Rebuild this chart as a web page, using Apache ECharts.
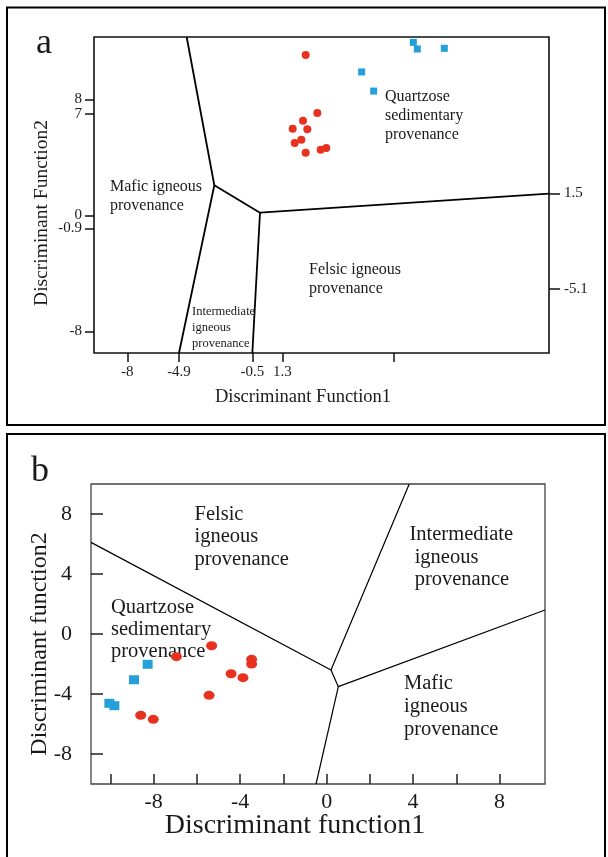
<!DOCTYPE html>
<html>
<head>
<meta charset="utf-8">
<script src="https://cdn.jsdelivr.net/npm/echarts@6/dist/echarts.min.js"></script>
<style>
  html, body { margin: 0; padding: 0; background: #fff; }
  #chart { width: 608px; height: 857px; }
</style>
</head>
<body>
<div id="chart"></div>
<script>
// ---- Panel a: discriminant functions (major-element ratios) ----
const aSamplesRed = [
  [2.70, 11.06], [3.40, 7.06], [2.54, 6.53], [1.92, 5.97], [2.80, 5.93],
  [2.44, 5.22], [2.04, 4.99], [2.70, 4.32], [3.60, 4.52], [3.94, 4.65]
];
const aSamplesBlue = [
  [9.16, 11.93], [9.40, 11.47], [11.02, 11.52], [6.06, 9.89], [6.78, 8.57]
];
// field boundaries, each a polyline in (DF1, DF2)
const aBoundaries = [
  [[-4.44, 12.3], [-2.78, 2.07], [-4.9, -9.5]],
  [[-2.78, 2.07], [-0.04, 0.18], [17.3, 1.5]],
  [[-0.04, 0.18], [-0.5, -9.5]]
];
const aXTicks = [-8, -4.9, -0.5, 1.3, 8];
const aXTickLabels = [-8, -4.9, -0.5, 1.3];
const aYTicks = [-8, -0.9, 0, 8];
const aYExtraTicks = [7];          // sits close to 8, drawn on its own left axis
const aYRightTicks = [-5.1, 1.5];

// ---- Panel b: discriminant functions ----
const bSamplesRed = [
  [-5.32, -0.78], [-6.95, -1.51], [-3.47, -1.69], [-3.47, -2.00], [-4.42, -2.65],
  [-3.87, -2.91], [-5.44, -4.09], [-8.60, -5.42], [-8.02, -5.69]
];
const bSamplesBlue = [
  [-8.28, -2.02], [-8.91, -3.05], [-10.05, -4.62], [-9.82, -4.78]
];
const bBoundaries = [
  [[-10.9, 6.11], [0.20, -2.40], [3.82, 10]],
  [[0.20, -2.40], [0.54, -3.51], [10.1, 1.6]],
  [[0.54, -3.51], [-0.49, -10]]
];
const bXTicks = [-10, -8, -6, -4, -2, 0, 2, 4, 6, 8];
const bXTickLabels = [-8, -4, 0, 4, 8];
const bYTicks = [-8, -4, 0, 4, 8];

const SERIF = "'Liberation Serif', 'Times New Roman', serif";
const INK = '#1a1a1a';
const RED = '#e8321f';
const BLUE = '#23a0d9';

const chart = echarts.init(document.getElementById('chart'), null, { renderer: 'canvas' });

function boundarySeries(lines, gridIdx, width) {
  return lines.map(pts => ({
    type: 'line', xAxisIndex: gridIdx, yAxisIndex: gridIdx === 0 ? 0 : 2,
    data: pts, symbol: 'none', silent: true, animation: false,
    lineStyle: { color: '#000', width: width }, z: 2
  }));
}

function text(str, x, y, size, lh) {
  return {
    type: 'text', x: x, y: y, silent: true,
    style: {
      text: str, fontFamily: SERIF, fontSize: size, lineHeight: lh,
      fill: INK, textVerticalAlign: 'top', textAlign: 'left'
    }
  };
}

function centered(str, x, y, size, rotation) {
  return {
    type: 'text', x: x, y: y, rotation: rotation || 0, silent: true,
    style: { text: str, fontFamily: SERIF, fontSize: size, fill: INK,
             textAlign: 'center', textVerticalAlign: 'middle' }
  };
}

const hiddenLine = { show: false, onZero: false };
const labelBase = { color: INK, fontFamily: SERIF, hideOverlap: false,
                    showMinLabel: true, showMaxLabel: true };

function panelAYAxis(values, position, tickLen, margin) {
  return {
    type: 'value', gridIndex: 0, min: -9.5, max: 12.3, position: position,
    axisLine: hiddenLine, splitLine: { show: false },
    axisTick: { show: true, inside: false, length: tickLen, customValues: values,
                lineStyle: { color: '#111', width: 1.5 } },
    axisLabel: Object.assign({ customValues: values, margin: margin, fontSize: 15 }, labelBase)
  };
}

const option = {
  backgroundColor: '#fff',
  animation: false,
  grid: [
    { left: 94, top: 37, width: 455, height: 316, show: true, borderColor: '#111', borderWidth: 1.6 },
    { left: 91, top: 484, width: 454, height: 300, show: true, borderColor: '#444', borderWidth: 1.3 }
  ],
  xAxis: [
    {
      type: 'value', gridIndex: 0, min: -10, max: 17.3, position: 'bottom',
      axisLine: hiddenLine, splitLine: { show: false },
      axisTick: { show: true, inside: false, length: 9, customValues: aXTicks,
                  lineStyle: { color: '#111', width: 1.5 } },
      axisLabel: Object.assign({ customValues: aXTickLabels, margin: 12, fontSize: 15 }, labelBase)
    },
    {
      type: 'value', gridIndex: 1, min: -10.9, max: 10.1, position: 'bottom',
      axisLine: hiddenLine, splitLine: { show: false },
      axisTick: { show: true, inside: true, length: 10, customValues: bXTicks,
                  lineStyle: { color: '#222', width: 1.5 } },
      axisLabel: Object.assign({ customValues: bXTickLabels, margin: 7, fontSize: 22 }, labelBase)
    }
  ],
  yAxis: [
    panelAYAxis(aYTicks, 'left', 9, 12),
    panelAYAxis(aYRightTicks, 'right', 11, 15),
    {
      type: 'value', gridIndex: 1, min: -10, max: 10, position: 'left',
      axisLine: hiddenLine, splitLine: { show: false },
      axisTick: { show: true, inside: true, length: 12, customValues: bYTicks,
                  lineStyle: { color: '#222', width: 1.5 } },
      axisLabel: Object.assign({ customValues: bYTicks, margin: 19, fontSize: 22 }, labelBase)
    },
    Object.assign(panelAYAxis(aYExtraTicks, 'left', 9, 12), { offset: 0 })
  ],
  series: [
    ...boundarySeries(aBoundaries, 0, 1.8),
    ...boundarySeries(bBoundaries, 1, 1.2),
    { type: 'scatter', xAxisIndex: 0, yAxisIndex: 0, data: aSamplesRed,
      symbol: 'circle', symbolSize: 8, itemStyle: { color: RED, opacity: 1 }, z: 3 },
    { type: 'scatter', xAxisIndex: 0, yAxisIndex: 0, data: aSamplesBlue,
      symbol: 'rect', symbolSize: 7, itemStyle: { color: BLUE, opacity: 1 }, z: 3 },
    { type: 'scatter', xAxisIndex: 1, yAxisIndex: 2, data: bSamplesRed,
      symbol: 'circle', symbolSize: [11, 9], itemStyle: { color: RED, opacity: 1 }, z: 3 },
    { type: 'scatter', xAxisIndex: 1, yAxisIndex: 2, data: bSamplesBlue,
      symbol: 'rect', symbolSize: [10, 9], itemStyle: { color: BLUE, opacity: 1 }, z: 3 }
  ],
  graphic: [
    // panel frames
    { type: 'rect', shape: { x: 7, y: 7.5, width: 598, height: 417.5 }, silent: true,
      style: { fill: 'none', stroke: '#000', lineWidth: 2 } },
    { type: 'rect', shape: { x: 7, y: 434, width: 598, height: 440 }, silent: true,
      style: { fill: 'none', stroke: '#000', lineWidth: 2 } },
    // panel letters
    centered('a', 44, 44, 36),
    centered('b', 40, 472, 36),
    // axis titles
    centered('Discriminant Function1', 303, 397, 18.5),
    centered('Discriminant Function2', 42, 213, 19.5, Math.PI / 2),
    centered('Discriminant function1', 295, 826, 28),
    centered('Discriminant function2', 40, 644, 24, Math.PI / 2),
    // field names, panel a
    text('Quartzose\nsedimentary\nprovenance', 385, 87, 16, 19),
    text('Mafic igneous\nprovenance', 110, 177, 16, 19.5),
    text('Felsic igneous\nprovenance', 309, 260.5, 16, 19),
    text('Intermediate\nigneous\nprovenance', 192, 303.5, 12.5, 16.2),
    // field names, panel b
    text('Felsic\nigneous\nprovenance', 194.5, 503, 20.5, 22.5),
    text('Quartzose\nsedimentary\nprovenance', 111, 596.5, 20.5, 22),
    text('Intermediate\n igneous\n provenance', 409.5, 524, 20.5, 22.2),
    text('Mafic\nigneous\nprovenance', 404, 672.5, 20.5, 22.7)
  ]
};

chart.setOption(option);
</script>
</body>
</html>
